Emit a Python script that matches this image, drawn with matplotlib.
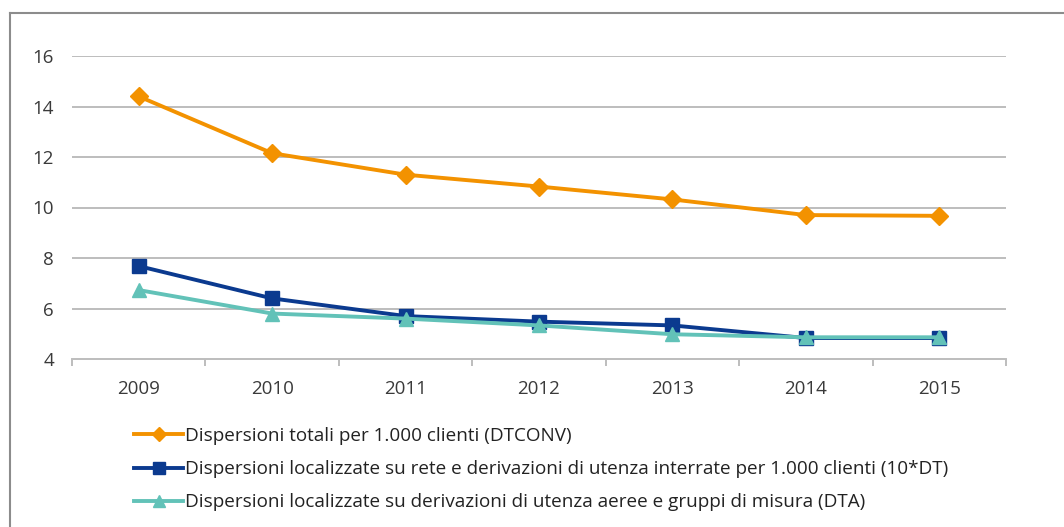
import matplotlib.pyplot as plt
from matplotlib.lines import Line2D

years = ["2009", "2010", "2011", "2012", "2013", "2014", "2015"]
dtconv = [14.4, 12.15, 11.3, 10.83, 10.32, 9.7, 9.67]
dt10 = [7.68, 6.4, 5.7, 5.48, 5.33, 4.83, 4.83]
dta = [6.73, 5.8, 5.6, 5.33, 4.98, 4.86, 4.86]

labels = [
    "Dispersioni totali per 1.000 clienti (DTCONV)",
    "Dispersioni localizzate su rete e derivazioni di utenza interrate per 1.000 clienti (10*DT)",
    "Dispersioni localizzate su derivazioni di utenza aeree e gruppi di misura (DTA)",
]

orange = "#F39200"
navy = "#0B3A8F"
teal = "#62C2B8"
grid = "#BDBDBD"
txt = "#3A3A3A"

plt.rcParams["font.family"] = ["Open Sans", "DejaVu Sans"]

fig = plt.figure(figsize=(10.64, 5.27), dpi=100)
ax = fig.add_axes([72 / 1064, 1 - 359 / 527, 934 / 1064, 303 / 527])

# outer frame of the chart area (top and left only visible)
fig.add_artist(Line2D([10 / 1064, 1.0], [1 - 13 / 527] * 2, color="#8C8C8C", lw=1.5))
fig.add_artist(Line2D([10 / 1064] * 2, [0.0, 1 - 13 / 527], color="#8C8C8C", lw=1.5))

x = list(range(len(years)))
ax.plot(x, dtconv, color=orange, lw=2.8, marker="D", ms=9, zorder=3)
ax.plot(x, dt10, color=navy, lw=2.8, marker="s", ms=9.5, zorder=4)
ax.plot(x, dta, color=teal, lw=2.8, marker="^", ms=9.5, zorder=5)

ax.set_xlim(-0.5, len(years) - 0.5)
ax.set_ylim(4, 16)
ax.set_yticks(range(4, 17, 2))
for v in range(6, 17, 2):
    ax.axhline(v, color=grid, lw=1.4, zorder=1)

for s in ["top", "right", "left"]:
    ax.spines[s].set_visible(False)
ax.spines["bottom"].set_color(grid)
ax.spines["bottom"].set_linewidth(1.4)

ax.set_xticks(x)
ax.set_xticklabels(years)
ax.set_xticks([i - 0.5 for i in range(len(years) + 1)], minor=True)
ax.tick_params(axis="x", which="major", length=0, pad=15, labelsize=13.5, labelcolor=txt)
ax.tick_params(axis="x", which="minor", length=5, width=1.4, color=grid)
ax.tick_params(axis="y", length=0, pad=13, labelsize=13.5, labelcolor=txt)

handles = [
    Line2D([], [], color=orange, lw=2.8, marker="D", ms=7),
    Line2D([], [], color=navy, lw=2.8, marker="s", ms=8),
    Line2D([], [], color=teal, lw=2.8, marker="^", ms=8),
]
fig.legend(handles, labels, loc="upper left", bbox_to_anchor=(117 / 1064, 1 - 410 / 527),
           frameon=False, fontsize=13.6, handlelength=2.6, handletextpad=0.1,
           labelspacing=0.8, labelcolor="#222222")

fig.savefig("out.png", dpi=100)
